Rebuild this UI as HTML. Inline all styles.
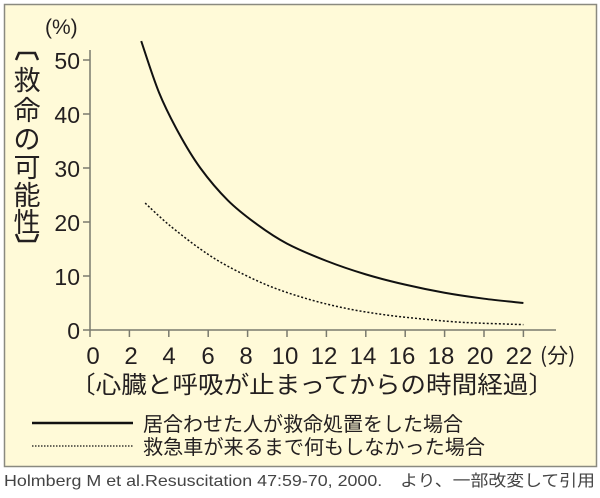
<!DOCTYPE html>
<html><head><meta charset="utf-8"><style>
body{margin:0;background:#fff;width:600px;height:498px;overflow:hidden}
svg{display:block}
text{font-family:"Liberation Sans","Noto Sans CJK JP",sans-serif;fill:#231f20}
.j{font-family:"Noto Sans CJK JP","Liberation Sans",sans-serif}
</style></head><body>
<svg width="600" height="498" viewBox="0 0 600 498">
<rect x="4.5" y="4.5" width="592" height="462" fill="#fffad8" stroke="#8a8a80" stroke-width="1.5"/>
<line x1="90" y1="50" x2="90" y2="337" stroke="#7a7a6e" stroke-width="1.5"/>
<line x1="83" y1="330" x2="556" y2="330" stroke="#7a7a6e" stroke-width="1.5"/>
<g stroke="#7a7a6e" stroke-width="1.5">
<line x1="83" y1="60" x2="90" y2="60"/><line x1="83" y1="114" x2="90" y2="114"/><line x1="83" y1="168" x2="90" y2="168"/><line x1="83" y1="222" x2="90" y2="222"/><line x1="83" y1="276" x2="90" y2="276"/>
<line x1="129.4" y1="330" x2="129.4" y2="337"/><line x1="168.8" y1="330" x2="168.8" y2="337"/><line x1="208.2" y1="330" x2="208.2" y2="337"/><line x1="247.6" y1="330" x2="247.6" y2="337"/><line x1="287" y1="330" x2="287" y2="337"/><line x1="326.4" y1="330" x2="326.4" y2="337"/><line x1="365.8" y1="330" x2="365.8" y2="337"/><line x1="405.2" y1="330" x2="405.2" y2="337"/><line x1="444.6" y1="330" x2="444.6" y2="337"/><line x1="484" y1="330" x2="484" y2="337"/><line x1="523.4" y1="330" x2="523.4" y2="337"/>
</g>
<g font-size="23" text-anchor="end">
<text x="80" y="69">50</text><text x="80" y="123">40</text><text x="80" y="177">30</text><text x="80" y="231">20</text><text x="80" y="285">10</text><text x="80" y="339">0</text>
</g>
<text x="45" y="34" font-size="21">(%)</text>
<path d="M16,60 L19,53 L35,53 L38,60" fill="none" stroke="#231f20" stroke-width="2.5"/>
<path d="M16,234 L19,241 L35,241 L38,234" fill="none" stroke="#231f20" stroke-width="2.5"/>
<g font-size="27" text-anchor="middle" class="j">
<text x="27" y="90">救</text><text x="27" y="120">命</text><text x="27" y="149">の</text><text x="27" y="177">可</text><text x="27" y="205">能</text><text x="27" y="232">性</text>
</g>
<g font-size="24" text-anchor="middle">
<text x="93" y="364">0</text><text x="131" y="364">2</text><text x="169" y="364">4</text><text x="208" y="364">6</text><text x="246" y="364">8</text><text x="285" y="364">10</text><text x="324" y="364">12</text><text x="363" y="364">14</text><text x="402" y="364">16</text><text x="441" y="364">18</text><text x="480" y="364">20</text><text x="519" y="364">22</text>
</g>
<text x="540" y="363" font-size="21" class="j">(分)</text>
<text x="70" y="393" font-size="24" class="j" textLength="484" lengthAdjust="spacingAndGlyphs">〔心臓と呼吸が止まってからの時間経過〕</text>
<path id="s" fill="none" stroke="#111" stroke-width="2"/>
<path id="d" fill="none" stroke="#111" stroke-width="1.5" stroke-dasharray="2,2"/>
<line x1="32" y1="423" x2="133" y2="423" stroke="#111" stroke-width="2.5"/>
<line x1="32" y1="446" x2="133" y2="446" stroke="#111" stroke-width="1.3" stroke-dasharray="1.5,1.5"/>
<text x="143" y="431" font-size="20" class="j" textLength="320" lengthAdjust="spacingAndGlyphs">居合わせた人が救命処置をした場合</text>
<text x="143" y="454" font-size="20" class="j" textLength="342" lengthAdjust="spacingAndGlyphs">救急車が来るまで何もしなかった場合</text>
<text x="4" y="486" font-size="16" style="fill:#444" textLength="591" lengthAdjust="spacingAndGlyphs">Holmberg M et al.Resuscitation 47:59-70, 2000.　より、一部改変して引用</text>
</svg>
<script>
function cr(p){let d="M"+p[0][0]+","+p[0][1];for(let i=0;i<p.length-1;i++){const a=p[i-1]||p[i],b=p[i],c=p[i+1],e=p[i+2]||c;d+=" C"+(b[0]+(c[0]-a[0])/6)+","+(b[1]+(c[1]-a[1])/6)+" "+(c[0]-(e[0]-b[0])/6)+","+(c[1]-(e[1]-b[1])/6)+" "+c[0]+","+c[1];}return d;}
function m(a){return a.map(q=>[90+19.7*q[0],330-5.4*q[1]]);}
document.getElementById("s").setAttribute("d",cr(m([[2.6,53.5],[3.5,44],[4.5,36.5],[5.6,30],[7,24],[8.5,19.5],[10,16],[12,12.8],[14,10.3],[16,8.4],[18,6.9],[20,5.8],[22,5]])));
document.getElementById("d").setAttribute("d",cr(m([[2.8,23.5],[4,19.5],[5.6,15],[7,11.8],[9,8.3],[11,5.8],[13,4],[15,2.8],[17,2],[19,1.4],[22,1]])));
</script>
</body></html>
